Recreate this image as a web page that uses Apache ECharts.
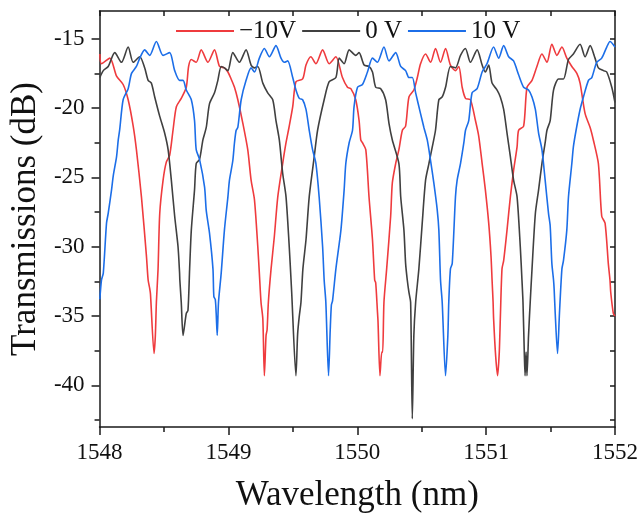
<!DOCTYPE html>
<html>
<head>
<meta charset="utf-8">
<script src="https://cdn.jsdelivr.net/npm/echarts@6/dist/echarts.min.js"></script>
<style>
  html, body { margin: 0; padding: 0; background: #fff; }
  #chart { width: 641px; height: 519px; }
</style>
</head>
<body>
<div id="chart"></div>
<script>
// legend names
const seriesNames = ["\u221210V", "0 V", "10 V"];

// [wavelength (nm), transmission (dB)]
const redPoints = [
  [1548.002, -16.1], [1548.015, -16.8], [1548.080, -16.4], [1548.132, -17.7], [1548.183, -18.3],
  [1548.222, -19.4], [1548.261, -21.3], [1548.286, -23.0], [1548.325, -26.4], [1548.364, -30.7],
  [1548.377, -32.4], [1548.389, -33.0], [1548.395, -33.4], [1548.423, -37.7], [1548.433, -36.4],
  [1548.441, -34.0], [1548.454, -31.6], [1548.467, -27.6], [1548.493, -25.2], [1548.518, -23.9],
  [1548.544, -23.4], [1548.570, -21.6], [1548.596, -19.9], [1548.634, -19.3], [1548.673, -18.5],
  [1548.691, -17.0], [1548.712, -16.5], [1548.750, -16.7], [1548.789, -15.8], [1548.841, -16.7],
  [1548.892, -15.8], [1548.931, -17.0], [1548.969, -17.1], [1548.996, -17.4], [1549.021, -17.9],
  [1549.047, -18.5], [1549.073, -19.4], [1549.112, -21.1], [1549.150, -23.0], [1549.176, -25.2],
  [1549.202, -26.6], [1549.228, -30.0], [1549.240, -31.9], [1549.253, -34.0], [1549.267, -35.2],
  [1549.279, -39.3], [1549.292, -36.4], [1549.300, -36.0], [1549.310, -34.0], [1549.331, -31.6],
  [1549.356, -29.3], [1549.383, -26.4], [1549.421, -24.0], [1549.447, -22.5], [1549.470, -21.4],
  [1549.499, -19.9], [1549.524, -18.1], [1549.576, -17.9], [1549.602, -16.9], [1549.640, -16.3],
  [1549.679, -16.8], [1549.731, -15.8], [1549.782, -16.8], [1549.834, -16.3], [1549.885, -17.8],
  [1549.924, -18.5], [1549.950, -18.6], [1549.988, -19.4], [1550.014, -20.9], [1550.027, -22.3],
  [1550.040, -22.5], [1550.066, -23.0], [1550.091, -26.4], [1550.118, -29.5], [1550.135, -32.4],
  [1550.143, -32.6], [1550.156, -34.6], [1550.161, -35.4], [1550.176, -39.3], [1550.190, -37.6],
  [1550.197, -37.6], [1550.207, -34.0], [1550.228, -31.6], [1550.259, -27.8], [1550.272, -25.4],
  [1550.298, -24.0], [1550.323, -23.0], [1550.350, -21.6], [1550.375, -21.3], [1550.401, -19.2],
  [1550.439, -18.7], [1550.466, -17.8], [1550.491, -16.8], [1550.530, -16.1], [1550.569, -16.7],
  [1550.607, -15.7], [1550.646, -16.7], [1550.685, -15.7], [1550.723, -16.9], [1550.762, -17.3],
  [1550.788, -17.0], [1550.814, -18.5], [1550.840, -19.3], [1550.878, -19.4], [1550.917, -20.9],
  [1550.942, -22.0], [1550.969, -24.0], [1550.994, -25.9], [1551.020, -28.3], [1551.038, -30.7],
  [1551.046, -32.4], [1551.054, -34.0], [1551.058, -35.2], [1551.074, -37.9], [1551.089, -39.3],
  [1551.102, -37.6], [1551.110, -35.2], [1551.123, -31.6], [1551.136, -31.0], [1551.162, -28.8],
  [1551.188, -26.4], [1551.213, -24.5], [1551.240, -22.8], [1551.252, -21.6], [1551.291, -21.3],
  [1551.317, -18.5], [1551.356, -18.0], [1551.394, -17.0], [1551.433, -16.1], [1551.472, -16.7],
  [1551.510, -15.4], [1551.549, -16.2], [1551.588, -15.6], [1551.626, -16.4], [1551.665, -17.0],
  [1551.704, -17.5], [1551.729, -18.2], [1551.768, -20.4], [1551.807, -21.4], [1551.832, -22.3],
  [1551.871, -24.0], [1551.897, -27.8], [1551.923, -28.3], [1551.948, -31.2], [1551.961, -32.4],
  [1551.967, -33.3], [1551.987, -34.8], [1552.000, -35.0]
];

const blackPoints = [
  [1548.002, -17.8], [1548.029, -17.3], [1548.067, -17.0], [1548.118, -16.0], [1548.170, -16.7],
  [1548.222, -15.6], [1548.261, -16.7], [1548.312, -16.3], [1548.350, -17.1], [1548.377, -18.0],
  [1548.402, -18.2], [1548.428, -19.2], [1548.467, -20.6], [1548.505, -21.8], [1548.532, -23.0],
  [1548.557, -25.2], [1548.583, -27.8], [1548.609, -30.0], [1548.621, -31.9], [1548.623, -32.4],
  [1548.634, -34.0], [1548.648, -36.4], [1548.673, -34.8], [1548.686, -34.6], [1548.699, -31.6],
  [1548.712, -28.8], [1548.737, -25.9], [1548.750, -24.0], [1548.776, -23.7], [1548.802, -22.3],
  [1548.828, -21.4], [1548.853, -19.7], [1548.892, -18.9], [1548.918, -18.0], [1548.944, -17.0],
  [1548.969, -17.1], [1548.996, -17.3], [1549.034, -16.0], [1549.085, -16.7], [1549.137, -15.8],
  [1549.176, -16.9], [1549.202, -17.1], [1549.228, -17.0], [1549.267, -18.2], [1549.305, -18.9],
  [1549.344, -19.4], [1549.369, -20.9], [1549.395, -22.3], [1549.421, -24.7], [1549.447, -26.4],
  [1549.472, -30.0], [1549.486, -32.4], [1549.491, -33.3], [1549.524, -39.3], [1549.537, -36.3],
  [1549.550, -35.0], [1549.563, -34.0], [1549.578, -31.6], [1549.602, -29.5], [1549.627, -26.4],
  [1549.666, -23.5], [1549.692, -21.6], [1549.743, -19.4], [1549.782, -18.1], [1549.834, -17.8],
  [1549.860, -16.4], [1549.898, -16.8], [1549.937, -15.8], [1549.988, -16.2], [1550.014, -16.0],
  [1550.053, -16.9], [1550.091, -17.0], [1550.118, -17.4], [1550.143, -18.5], [1550.182, -18.6],
  [1550.220, -19.4], [1550.246, -21.1], [1550.272, -22.3], [1550.323, -24.0], [1550.337, -26.4],
  [1550.362, -28.8], [1550.375, -31.2], [1550.388, -32.4], [1550.401, -33.3], [1550.414, -34.0],
  [1550.427, -42.4], [1550.439, -36.4], [1550.453, -34.0], [1550.478, -31.6], [1550.504, -28.3],
  [1550.530, -25.2], [1550.556, -24.0], [1550.582, -22.8], [1550.607, -21.6], [1550.633, -19.4],
  [1550.659, -19.2], [1550.685, -18.5], [1550.723, -17.0], [1550.762, -17.1], [1550.801, -16.2],
  [1550.839, -15.7], [1550.878, -16.7], [1550.930, -15.8], [1550.969, -16.9], [1550.994, -17.4],
  [1551.020, -16.9], [1551.046, -18.2], [1551.085, -18.7], [1551.110, -19.2], [1551.136, -20.1],
  [1551.162, -21.8], [1551.188, -23.5], [1551.213, -25.2], [1551.240, -26.4], [1551.265, -30.0],
  [1551.278, -32.4], [1551.286, -34.0], [1551.296, -37.6], [1551.302, -39.3], [1551.310, -37.6],
  [1551.317, -39.3], [1551.329, -36.4], [1551.342, -34.0], [1551.356, -31.6], [1551.382, -27.6],
  [1551.407, -25.9], [1551.433, -24.0], [1551.458, -22.5], [1551.472, -21.6], [1551.497, -20.9],
  [1551.523, -18.7], [1551.562, -17.9], [1551.600, -17.9], [1551.639, -16.5], [1551.677, -16.1],
  [1551.729, -15.4], [1551.768, -16.3], [1551.807, -15.5], [1551.845, -16.4], [1551.871, -17.1],
  [1551.910, -17.3], [1551.936, -17.4], [1551.975, -18.5], [1552.000, -19.6]
];

const bluePoints = [
  [1548.002, -33.8], [1548.015, -32.4], [1548.029, -31.9], [1548.054, -28.3], [1548.067, -27.6],
  [1548.093, -25.9], [1548.106, -24.9], [1548.132, -23.5], [1548.145, -22.3], [1548.157, -21.5],
  [1548.183, -19.4], [1548.222, -18.6], [1548.248, -17.5], [1548.286, -17.0], [1548.312, -16.4],
  [1548.350, -15.8], [1548.389, -16.2], [1548.441, -15.2], [1548.493, -16.2], [1548.544, -16.0],
  [1548.583, -17.3], [1548.621, -18.0], [1548.648, -18.0], [1548.673, -18.7], [1548.712, -19.4],
  [1548.737, -20.9], [1548.750, -23.0], [1548.776, -23.7], [1548.815, -25.7], [1548.828, -27.4],
  [1548.853, -29.0], [1548.880, -31.6], [1548.887, -33.6], [1548.898, -33.8], [1548.905, -34.8],
  [1548.913, -36.4], [1548.923, -34.0], [1548.944, -31.9], [1548.969, -28.8], [1548.996, -26.4],
  [1549.008, -25.2], [1549.034, -23.8], [1549.047, -22.5], [1549.060, -21.6], [1549.073, -21.4],
  [1549.099, -19.4], [1549.137, -18.0], [1549.176, -17.1], [1549.202, -17.4], [1549.240, -16.4],
  [1549.279, -15.7], [1549.318, -16.3], [1549.369, -15.5], [1549.408, -16.4], [1549.434, -16.7],
  [1549.460, -16.6], [1549.499, -17.8], [1549.524, -18.7], [1549.550, -19.3], [1549.576, -19.4],
  [1549.602, -20.1], [1549.627, -21.6], [1549.653, -23.0], [1549.679, -24.0], [1549.704, -26.4],
  [1549.731, -30.0], [1549.743, -32.4], [1549.756, -34.0], [1549.777, -39.3], [1549.790, -36.0],
  [1549.799, -34.2], [1549.808, -33.9], [1549.834, -31.6], [1549.873, -28.8], [1549.898, -25.9],
  [1549.911, -24.0], [1549.937, -22.5], [1549.963, -21.6], [1549.975, -19.9], [1550.002, -18.5],
  [1550.040, -18.3], [1550.079, -17.4], [1550.118, -16.4], [1550.156, -16.7], [1550.207, -15.6],
  [1550.246, -16.6], [1550.298, -16.0], [1550.337, -17.0], [1550.375, -17.3], [1550.401, -17.8],
  [1550.427, -17.8], [1550.453, -18.9], [1550.491, -20.4], [1550.517, -21.4], [1550.543, -22.3],
  [1550.569, -23.8], [1550.594, -25.4], [1550.620, -27.3], [1550.633, -28.8], [1550.646, -32.4],
  [1550.659, -34.0], [1550.685, -39.3], [1550.703, -36.4], [1550.710, -34.0], [1550.723, -31.6],
  [1550.737, -31.2], [1550.762, -26.4], [1550.775, -25.2], [1550.801, -24.0], [1550.827, -22.5],
  [1550.840, -21.6], [1550.865, -20.9], [1550.891, -18.9], [1550.930, -18.6], [1550.969, -17.4],
  [1551.007, -16.8], [1551.058, -15.6], [1551.097, -16.4], [1551.136, -15.5], [1551.175, -16.3],
  [1551.213, -16.6], [1551.252, -17.6], [1551.291, -18.5], [1551.329, -18.7], [1551.356, -19.2],
  [1551.382, -20.1], [1551.407, -21.8], [1551.433, -23.0], [1551.458, -25.2], [1551.484, -27.6],
  [1551.497, -28.5], [1551.510, -31.2], [1551.523, -32.4], [1551.528, -33.1], [1551.536, -34.8],
  [1551.554, -37.7], [1551.569, -34.8], [1551.588, -31.6], [1551.600, -31.0], [1551.626, -28.8],
  [1551.639, -26.4], [1551.665, -24.0], [1551.677, -22.8], [1551.698, -21.6], [1551.729, -20.1],
  [1551.755, -19.2], [1551.794, -18.0], [1551.820, -17.8], [1551.858, -16.7], [1551.897, -16.4],
  [1551.936, -15.6], [1551.961, -15.2], [1552.000, -15.6]
];

const seriesColors = ["#ef3b3e", "#404040", "#1c6ee8"];

// axis ticks
const yMajorTicks = [-40, -35, -30, -25, -20, -15];
const yMinorTicks = [-42.5, -37.5, -32.5, -27.5, -22.5, -17.5];
const yAllTicks = [-42.5, -40, -37.5, -35, -32.5, -30, -27.5, -25, -22.5, -20, -17.5, -15];

const FONT = "'Liberation Serif', 'Times New Roman', serif";
const AXIS_COLOR = "#1a1a1a";

const chart = echarts.init(document.getElementById("chart"), null, {
  renderer: "canvas",
});

const axisLine = { show: true, onZero: false, lineStyle: { color: AXIS_COLOR, width: 1.5 } };

const yBase = {
  type: "value",
  min: -43,
  max: -13,
  splitLine: { show: false },
};

const option = {
  backgroundColor: "#fff",
  animation: false,
  grid: { left: 98, right: 26, top: 11, bottom: 92 },
  legend: {
    left: 176,
    top: 16,
    padding: 0,
    itemWidth: 58,
    itemHeight: 2,
    itemGap: 6,
    icon: "rect",
    data: seriesNames,
    textStyle: { fontFamily: FONT, fontSize: 25, color: "#111", lineHeight: 30 },
  },
  xAxis: [
    {
      type: "value",
      position: "bottom",
      min: 1548,
      max: 1552,
      interval: 1,
      name: "Wavelength (nm)",
      nameLocation: "middle",
      nameGap: 51,
      nameTextStyle: { fontFamily: FONT, fontSize: 35, color: "#111" },
      axisLine,
      axisTick: { show: true, inside: false, length: 8, lineStyle: { color: AXIS_COLOR, width: 1.5 } },
      minorTick: { show: true, splitNumber: 2, length: 5, lineStyle: { color: AXIS_COLOR, width: 1.5 } },
      axisLabel: {
        fontFamily: FONT, fontSize: 23, color: "#111", margin: 14,
        formatter: (v) => String(v),
      },
      splitLine: { show: false },
    },
    {
      type: "value",
      position: "top",
      min: 1548,
      max: 1552,
      interval: 0.5,
      axisLine,
      axisTick: { show: true, inside: true, length: 5, lineStyle: { color: AXIS_COLOR, width: 1.5 } },
      axisLabel: { show: false },
      splitLine: { show: false },
    },
  ],
  yAxis: [
    Object.assign({}, yBase, {
      position: "left",
      name: "Transmissions (dB)",
      nameLocation: "middle",
      nameGap: 43,
      nameTextStyle: { fontFamily: FONT, fontSize: 35, color: "#111" },
      axisLine,
      axisTick: {
        show: true, inside: false, length: 8, customValues: yMajorTicks,
        lineStyle: { color: AXIS_COLOR, width: 1.5 },
      },
      axisLabel: {
        fontFamily: FONT, fontSize: 23, color: "#111", margin: 15, customValues: yMajorTicks,
      },
    }),
    Object.assign({}, yBase, {
      position: "left",
      axisLine: { show: false },
      axisTick: {
        show: true, inside: false, length: 5, customValues: yMinorTicks,
        lineStyle: { color: AXIS_COLOR, width: 1.5 },
      },
      axisLabel: { show: false },
    }),
    Object.assign({}, yBase, {
      position: "right",
      axisLine,
      axisTick: {
        show: true, inside: true, length: 5, customValues: yAllTicks,
        lineStyle: { color: AXIS_COLOR, width: 1.5 },
      },
      axisLabel: { show: false },
    }),
  ],
  series: [redPoints, blackPoints, bluePoints].map((pts, i) => ({
    name: seriesNames[i],
    type: "line",
    xAxisIndex: 0,
    yAxisIndex: 0,
    data: pts,
    symbol: "none",
    smooth: 0.25,
    lineStyle: { color: seriesColors[i], width: 1.6 },
    itemStyle: { color: seriesColors[i] },
  })),
};

chart.setOption(option);
</script>
</body>
</html>
